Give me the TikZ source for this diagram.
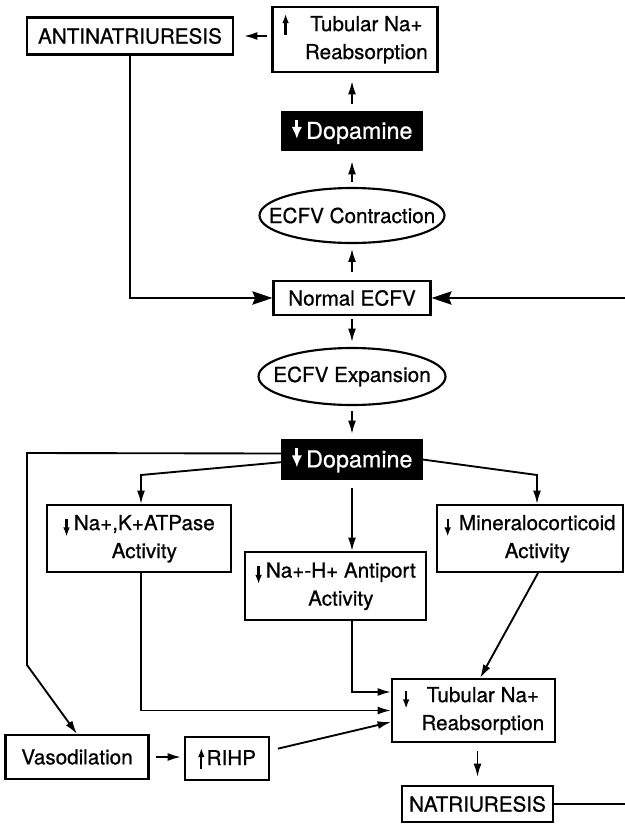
\documentclass[tikz,border=0pt]{standalone}
\usepackage{fontspec}
\setmainfont[FakeBold=0.7]{TeX Gyre Heros}
\usetikzlibrary{arrows.meta,shapes.geometric}
\newcommand{\diagfont}{\fontsize{15.5pt}{21pt}\selectfont}
\newcommand{\dopfont}{\fontsize{17.5pt}{20pt}\selectfont}
% small slender arrows used inside the labels
\newcommand{\upmark}{\tikz[baseline=0pt]\draw[line width=1.7pt,-{Latex[length=7pt,width=5pt]}] (0pt,-3pt) -- (0pt,13pt);}
\newcommand{\downmark}{\tikz[baseline=0pt]\draw[line width=1.7pt,-{Latex[length=7pt,width=5pt]}] (0pt,8.5pt) -- (0pt,-5pt);}
\newcommand{\dopmark}{\tikz[baseline=0pt]\draw[white,line width=2.2pt,-{Latex[length=9pt,width=8pt]}] (0pt,14.5pt) -- (0pt,0pt);}
\newcommand{\pairlines}[2]{\begin{tabular}[t]{@{}c@{}}#1\\#2\end{tabular}}
\tikzset{
  arr/.style={-{Latex[length=10pt,width=6pt]},line width=1.4pt},
  bigarr/.style={-{Stealth[length=15pt,width=10pt,inset=2pt]},line width=1.4pt},
  link/.style={line width=1.4pt},
  boxstyle/.style={draw,line width=1.6pt,inner sep=0pt,font=\diagfont},
  darkbox/.style={draw,fill=black,text=white,line width=1.6pt,inner sep=0pt,font=\dopfont},
  ovalbox/.style={ellipse,draw,line width=1.6pt,inner sep=0pt,font=\diagfont}
}

\begin{document}
\begin{tikzpicture}[x=0.75pt,y=-0.75pt]
  \useasboundingbox (0,0) rectangle (625,825);

  % upper loop: contraction
  \node[boxstyle,minimum width=154.5pt,minimum height=27.75pt] (anti) at (130,36) {ANTINATRIURESIS};
  \node[boxstyle,minimum width=123.75pt,minimum height=48.75pt] (tubt) at (355,39.5) {\upmark\hspace{12pt}\pairlines{Tubular Na+}{Reabsorption}};
  \node[darkbox,minimum width=104.25pt,minimum height=28.5pt] (dopa) at (352,131) {\dopmark\hspace{3pt}Dopamine};
  \node[ovalbox,minimum width=138.75pt,minimum height=41.25pt] (contr) at (352,215.5) {\makebox[0pt]{ECFV Contraction}};
  \node[boxstyle,minimum width=117.75pt,minimum height=25.5pt] (normal) at (352,298) {Normal ECFV};

  % lower loop: expansion
  \node[ovalbox,minimum width=140.25pt,minimum height=42.75pt] (expan) at (352,376.5) {\makebox[0pt]{ECFV Expansion}};
  \node[darkbox,minimum width=104.25pt,minimum height=29.25pt] (dopb) at (352,459.5) {\dopmark\hspace{3pt}Dopamine};
  \node[boxstyle,minimum width=138pt,minimum height=50.25pt] (nak) at (139,538.5) {\downmark\hspace{3pt}\pairlines{Na+,K+ATPase}{Activity}};
  \node[boxstyle,minimum width=135.75pt,minimum height=51pt] (nah) at (335.5,586) {\downmark\hspace{3pt}\pairlines{Na+-H+ Antiport}{Activity}};
  \node[boxstyle,minimum width=139.5pt,minimum height=50.25pt] (mineral) at (530,538.5) {\downmark\hspace{6pt}\pairlines{Mineralocorticoid}{Activity}};
  \node[boxstyle,minimum width=122.25pt,minimum height=47.25pt] (tubb) at (473.5,710.5) {\downmark\hspace{9pt}\pairlines{Tubular Na+}{Reabsorption}};
  \node[boxstyle,minimum width=107.25pt,minimum height=33pt] (vaso) at (77,757) {Vasodilation};
  \node[boxstyle,minimum width=63pt,minimum height=32.25pt] (rihp) at (227,758.5) {\upmark\hspace{1.5pt}RIHP};
  \node[boxstyle,minimum width=113.25pt,minimum height=27pt] (natri) at (477.5,804) {NATRIURESIS};

  \coordinate (rin) at (625,298);
  \coordinate (rout) at (625,804);
  \coordinate (vtop) at (27,453);
  \coordinate (vbot) at (27,665);
  \coordinate (nakb) at (141,475);
  \coordinate (minb) at (537,475);

  \draw[arr,shorten <=3pt,shorten >=7.5pt] (tubt.west |- anti.east) -- (anti.east);
  \draw[arr,shorten <=5.25pt,shorten >=6pt] (dopa.north) -- (dopa.north |- tubt.south);
  \draw[arr,shorten <=3.75pt,shorten >=7.5pt] (contr.north) -- (dopa.south);
  \draw[arr,shorten <=6pt,shorten >=3.4pt] (normal.north) -- (contr.south);
  \draw[bigarr] (anti.south) |- (normal.west);
  \draw[bigarr] (rin) -- (normal.east);

  \draw[arr,shorten <=2.25pt,shorten >=3.75pt] (normal.south) -- (expan.north);
  \draw[arr,shorten <=3.75pt,shorten >=3.75pt] (expan.south) -- (dopb.north);
  \draw[arr] ([yshift=4.5pt]dopb.west) -- (vtop) -- (vbot) -- (vaso.north);
  \draw[arr] ([yshift=-2pt]dopb.west) -- (nakb) -- (nakb |- nak.north);
  \draw[arr,shorten <=6pt] (dopb.south) -- (dopb.south |- nah.north);
  \draw[arr] (dopb.east) -- (minb) -- (minb |- mineral.north);

  \draw[arr] (nakb |- nak.south) |- (tubb.west);
  \draw[arr] (dopb.south |- nah.south) |- (tubb.west |- 0,692);
  \draw[arr] ([xshift=6pt]mineral.south) -- ([xshift=5pt]tubb.north);
  \draw[arr,shorten <=5pt,shorten >=2.25pt] (vaso.east) -- (vaso.east -| rihp.west);
  \draw[arr,shorten <=6pt] ([yshift=6pt]rihp.east) -- (tubb.west |- 0,722);
  \draw[arr,shorten <=6pt,shorten >=6pt] (natri.north |- tubb.south) -- (natri.north);
  \draw[link] (natri.east) -- (rout);
\end{tikzpicture}
\end{document}
